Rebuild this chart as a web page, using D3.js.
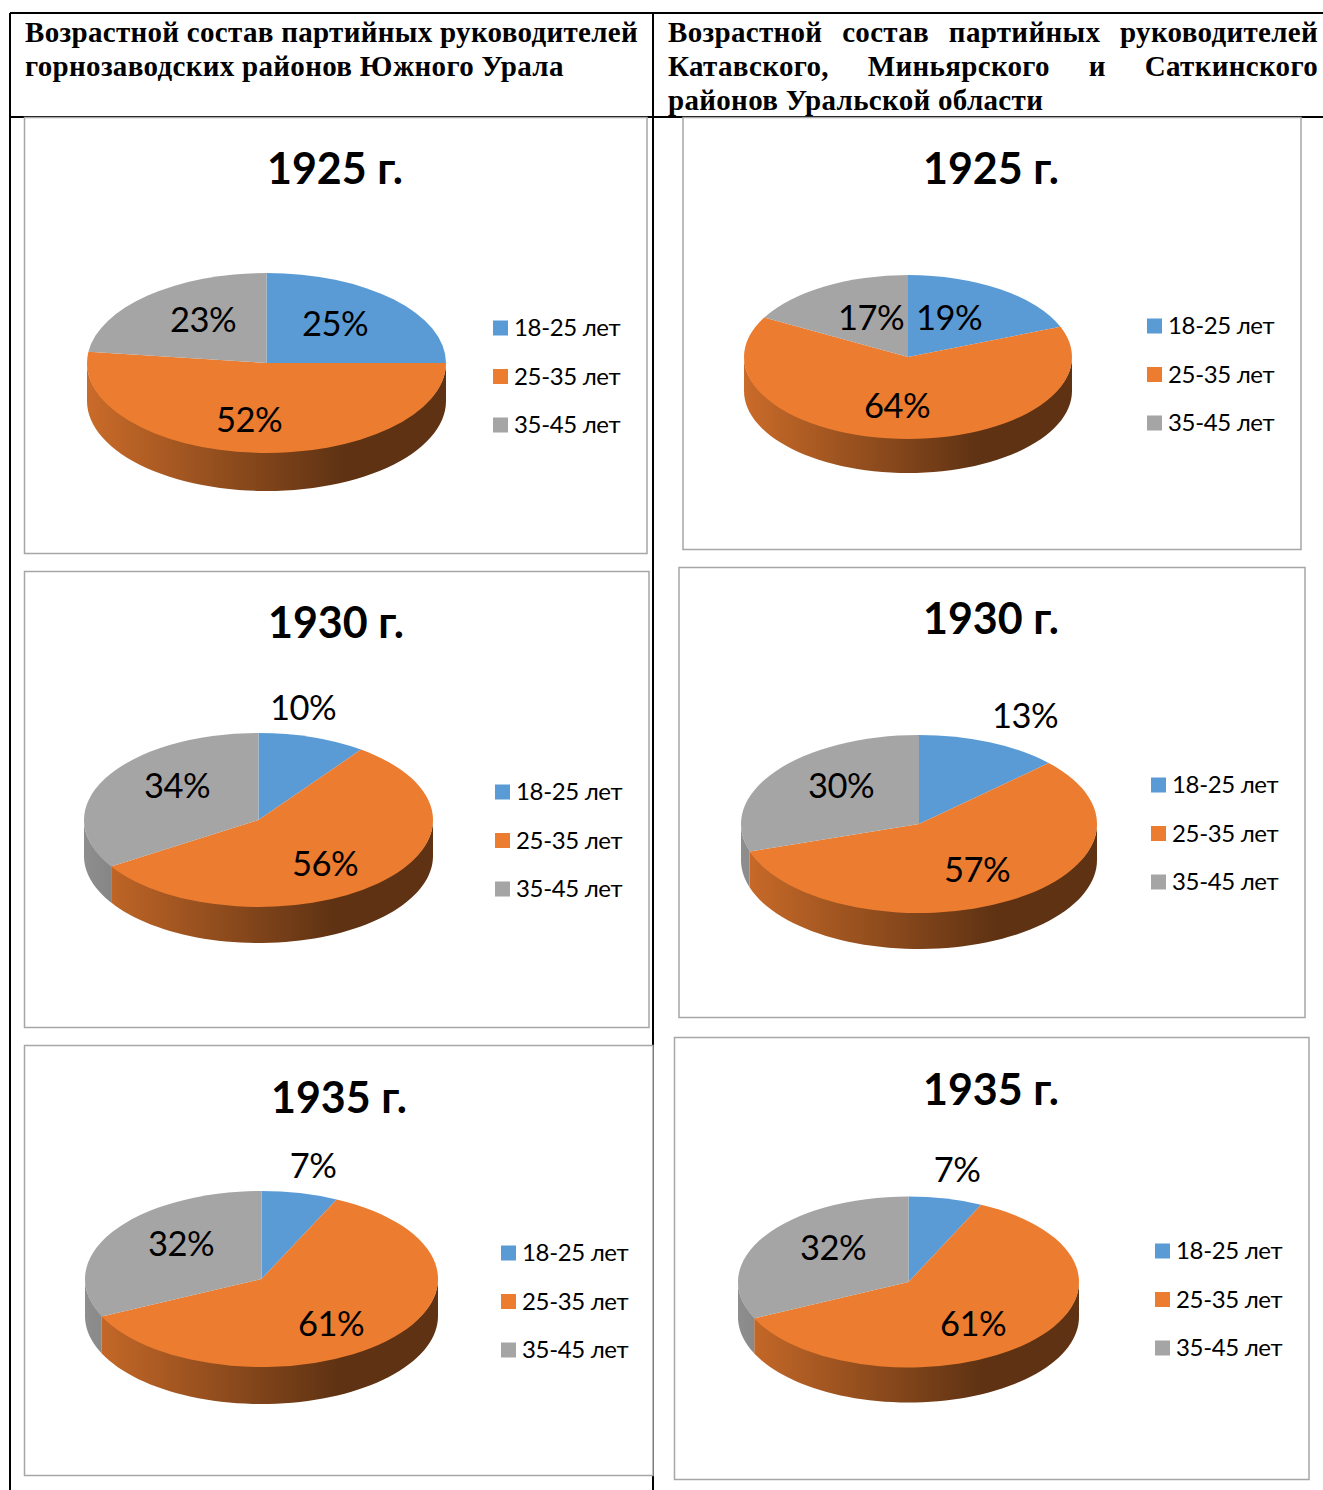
<!DOCTYPE html>
<html>
<head>
<meta charset="utf-8">
<script src="https://cdn.jsdelivr.net/npm/d3@7"></script>
<style>
  html, body { margin: 0; padding: 0; background: #fff; }
  svg { display: block; }
  .chart-title { font-family: Lato, sans-serif; font-weight: 700; font-size: 43px; text-anchor: middle; }
  .pct { font-family: Lato, sans-serif; font-size: 34.5px; letter-spacing: -0.6px; text-anchor: middle; }
  .legend-label { font-family: Lato, sans-serif; font-size: 24px; letter-spacing: -0.35px; }
  .head { font-family: "Liberation Serif", serif; font-weight: 700; font-size: 29px; letter-spacing: 0.32px; }
</style>
</head>
<body>
<svg id="page" width="1323" height="1490"></svg>
<script>
// Data
const ageGroups = ['18-25 лет', '25-35 лет', '35-45 лет'];
const ageColors = ['#5b9bd5', '#eb7c30', '#a5a5a5'];
const years = ['1925 г.', '1930 г.', '1935 г.'];
const uralShares = [[25, 52, 23], [10, 56, 34], [7, 61, 32]];
const katavShares = [[19, 64, 17], [13, 57, 30], [7, 61, 32]];

const headLeft = ['Возрастной состав партийных руководителей', 'горнозаводских районов Южного Урала'];
const headRight = ['Возрастной состав партийных руководителей', 'Катавского, Миньярского и Саткинского', 'районов Уральской области'];

// Layout of each panel: frame, pie centre and radii, title / legend anchors, label spots
const leftPanels = [
  {x0: 24.5, y0: 117.5, x1: 647, y1: 553.5, cx: 266.5, cy: 363, rx: 179.5, ry: 90, depth: 38, titleX: 335, titleY: 184, legX: 493, legY: 328,
   labels: [[335, 336], [249, 432], [203, 332]]},
  {x0: 24.5, y0: 571.5, x1: 649, y1: 1027.5, cx: 258.5, cy: 820, rx: 174.5, ry: 87, depth: 36, titleX: 336, titleY: 638, legX: 495, legY: 792,
   labels: [[303, 720], [325, 876], [177, 798]]},
  {x0: 24.5, y0: 1045.5, x1: 653, y1: 1475.5, cx: 261.5, cy: 1279, rx: 176.5, ry: 88, depth: 37, titleX: 339, titleY: 1113, legX: 501, legY: 1253,
   labels: [[313, 1178], [331, 1336], [181, 1256]]}
];
const rightPanels = [
  {x0: 683, y0: 117.5, x1: 1301, y1: 549.5, cx: 908, cy: 357, rx: 164, ry: 82, depth: 34, titleX: 991, titleY: 184, legX: 1147, legY: 326,
   labels: [[949, 330], [897, 418], [871, 330]]},
  {x0: 679, y0: 567.5, x1: 1305, y1: 1017.5, cx: 919, cy: 824, rx: 178, ry: 89, depth: 36, titleX: 991, titleY: 634, legX: 1151, legY: 785,
   labels: [[1025, 728], [977, 882], [841, 798]]},
  {x0: 674.5, y0: 1037.5, x1: 1309, y1: 1479.5, cx: 908.5, cy: 1282, rx: 170.5, ry: 85.5, depth: 35, titleX: 991, titleY: 1105, legX: 1155, legY: 1251,
   labels: [[957, 1182], [973, 1336], [833, 1260]]}
];

const svg = d3.select('#page');
const defs = svg.append('defs');

// Table rules behind the charts
const rules = [[10, 13, 10, 1490], [10, 13, 1323, 13], [10, 117, 1323, 117], [653, 13, 653, 1490]];
svg.append('g').selectAll('line')
  .data(rules)
  .join('line')
  .attr('x1', d => d[0]).attr('y1', d => d[1])
  .attr('x2', d => d[2]).attr('y2', d => d[3])
  .attr('stroke', '#000')
  .attr('stroke-width', 2);

function drawHead(lines, x, width, justified) {
  lines.forEach((line, i) => {
    const t = svg.append('text')
      .attr('class', 'head')
      .attr('x', x)
      .attr('y', 42 + i * 34)
      .text(line);
    // justified lines get the spare room between their words
    if (justified[i]) {
      const gaps = line.split(' ').length - 1;
      t.attr('word-spacing', (width - t.node().getComputedTextLength()) / gaps);
    }
  });
}
drawHead(headLeft, 25, 613, [true, false]);
drawHead(headRight, 668, 650, [true, true, false]);

const pie = d3.pie().sort(null);
const arcGen = d3.arc().innerRadius(0);

function drawChart(panel, shares, year, id) {
  const g = svg.append('g');

  g.append('rect')
    .attr('x', panel.x0).attr('y', panel.y0)
    .attr('width', panel.x1 - panel.x0).attr('height', panel.y1 - panel.y0)
    .attr('fill', '#fff')
    .attr('stroke', '#a6a6a6')
    .attr('stroke-width', 1.5);

  g.append('text')
    .attr('class', 'chart-title')
    .attr('x', panel.titleX).attr('y', panel.titleY)
    .text(year);

  const slices = pie(shares);

  // Side wall: only the front half of the rim (90deg..270deg from twelve o'clock) shows
  const shadeX = d3.scaleLinear().domain([0, 1]).range([panel.cx - panel.rx, panel.cx + panel.rx]);
  const wall = d3.area()
    .x(a => panel.cx + panel.rx * Math.sin(a))
    .y0(a => panel.cy - (panel.ry - 2) * Math.cos(a))   // tucked under the top face, no seam
    .y1(a => panel.cy - panel.ry * Math.cos(a) + panel.depth);

  slices.forEach((s, i) => {
    const from = Math.max(s.startAngle, Math.PI / 2);
    const to = Math.min(s.endAngle, Math.PI * 3 / 2);
    if (to <= from) return;

    const base = d3.rgb(ageColors[i]);
    const tint = k => d3.rgb(base.r * k, base.g * k, base.b * k).formatRgb();
    const gradId = `wall-${id}-${i}`;
    const grad = defs.append('linearGradient')
      .attr('id', gradId)
      .attr('gradientUnits', 'userSpaceOnUse')
      .attr('x1', shadeX(0)).attr('x2', shadeX(1))
      .attr('y1', 0).attr('y2', 0);
    grad.append('stop').attr('offset', 0).attr('stop-color', tint(0.86));
    grad.append('stop').attr('offset', 0.72).attr('stop-color', tint(0.4));
    grad.append('stop').attr('offset', 1).attr('stop-color', tint(0.4));

    const steps = d3.range(0, 61).map(k => from + (to - from) * k / 60);
    g.append('path')
      .attr('d', wall(steps))
      .attr('fill', `url(#${gradId})`);
  });

  // Top face: a flat pie squashed into an ellipse
  g.append('g')
    .attr('transform', `translate(${panel.cx},${panel.cy}) scale(1,${panel.ry / panel.rx})`)
    .selectAll('path')
    .data(slices)
    .join('path')
    .attr('d', d => arcGen.outerRadius(panel.rx)(d))
    .attr('fill', (d, i) => ageColors[i]);

  // Percent labels
  g.selectAll('text.pct')
    .data(shares)
    .join('text')
    .attr('class', 'pct')
    .attr('x', (d, i) => panel.labels[i][0])
    .attr('y', (d, i) => panel.labels[i][1])
    .text(d => d + '%');

  // Legend
  const legY = d3.scalePoint().domain(ageGroups).range([panel.legY, panel.legY + 97]);
  const leg = g.append('g').selectAll('g')
    .data(ageGroups)
    .join('g')
    .attr('transform', d => `translate(${panel.legX},${legY(d)})`);
  leg.append('rect')
    .attr('y', -7.5)
    .attr('width', 15).attr('height', 15)
    .attr('fill', (d, i) => ageColors[i]);
  leg.append('text')
    .attr('class', 'legend-label')
    .attr('x', 21).attr('y', 8)
    .text(d => d);
}

leftPanels.forEach((p, i) => drawChart(p, uralShares[i], years[i], 'l' + i));
rightPanels.forEach((p, i) => drawChart(p, katavShares[i], years[i], 'r' + i));
</script>
</body>
</html>
